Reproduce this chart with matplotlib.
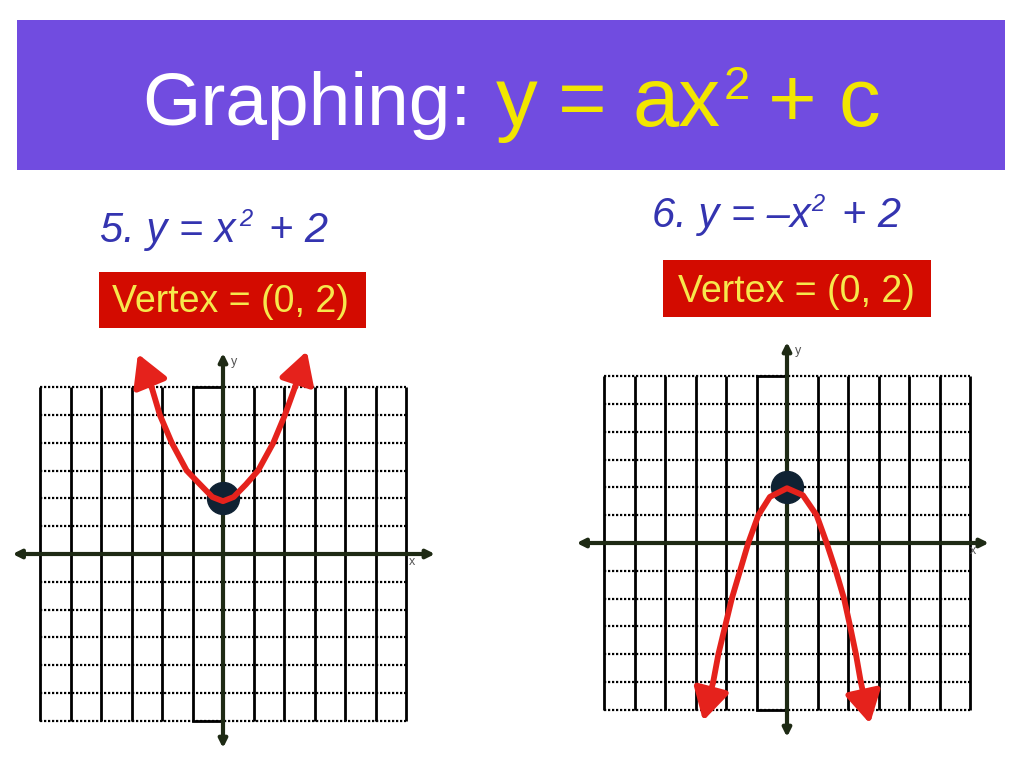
import numpy as np
import matplotlib.pyplot as plt
from matplotlib.patches import Rectangle

plt.rcParams['font.family'] = ['Liberation Sans', 'DejaVu Sans']

# grid range (units each way)
grid_ticks = list(range(-6, 7))

# curve 5: y = x^2 + 2
curve5_x = [-2.79, -2.34, -2.07, -1.68, -1.19, -0.75, -0.35, 0, 0.35, 0.75, 1.15, 1.65, 2.03, 2.36, 2.75]
curve5_y = [7.2, 6.0, 5.0, 4.0, 3.0, 2.5, 2.05, 1.9, 2.05, 2.5, 3.0, 4.0, 5.0, 6.0, 7.3]

# curve 6: y = -x^2 + 2
curve6_x = [-2.75, -2.42, -2.25, -2.03, -1.81, -1.54, -1.27, -0.94, -0.56, 0, 0.52, 0.97, 1.30, 1.6, 1.87, 2.07, 2.26, 2.42, 2.72]
curve6_y = [-6.4, -5, -4, -3, -2, -1, 0, 1, 1.66, 1.97, 1.72, 1, 0, -1, -2, -3, -4, -5, -6.5]

vertex = (0, 2)

W, H = 1024, 768
fig = plt.figure(figsize=(W / 100, H / 100), dpi=100)
fig.patch.set_facecolor('white')

RED = '#e5221c'
AXC = '#1e2a14'
BLUE = '#3434b0'
YEL = '#f2e600'


def ftext(x, y, s, **kw):
    # x, y in pixels from top-left, y is the baseline
    fig.text(x / W, 1 - y / H, s, va='baseline', ha='left', **kw)


def frect(x0, y0, x1, y1, color):
    fig.add_artist(Rectangle((x0 / W, 1 - y1 / H), (x1 - x0) / W, (y1 - y0) / H,
                             transform=fig.transFigure, facecolor=color, edgecolor='none', zorder=0))


# banner
frect(17, 20, 1005, 170, '#714ce0')
ftext(142, 125, 'Graphing:', color='white', fontsize=54)
ftext(496, 126, 'y', color=YEL, fontsize=60)
ftext(558, 126, '=', color=YEL, fontsize=60)
ftext(632, 126, 'ax', color=YEL, fontsize=60)
ftext(724, 99, '2', color=YEL, fontsize=34)
ftext(768, 126, '+', color=YEL, fontsize=60)
ftext(839, 126, 'c', color=YEL, fontsize=60)

# equations
ftext(100, 242, '5. y = x', color=BLUE, fontsize=30, fontstyle='italic')
ftext(239, 226, '2', color=BLUE, fontsize=17, fontstyle='italic')
ftext(269, 242, '+ 2', color=BLUE, fontsize=30, fontstyle='italic')

ftext(652, 227, '6. y = \u2013x', color=BLUE, fontsize=30, fontstyle='italic')
ftext(811, 211, '2', color=BLUE, fontsize=17, fontstyle='italic')
ftext(842, 227, '+ 2', color=BLUE, fontsize=30, fontstyle='italic')

# vertex boxes
frect(99, 272, 366, 328, '#d30b00')
ftext(112, 312, 'Vertex = (0, 2)', color='#f6e84c', fontsize=27)
frect(663, 260, 931, 317, '#d30b00')
ftext(678, 302, 'Vertex = (0, 2)', color='#f6e84c', fontsize=27)

SX, SY = 30.5, 27.8
XL, YL = (-7.4, 7.4), (-7.4, 7.8)


def make_axes(cx, cy):
    left = cx + XL[0] * SX
    right = cx + XL[1] * SX
    top = cy - YL[1] * SY
    bottom = cy - YL[0] * SY
    ax = fig.add_axes([left / W, 1 - bottom / H, (right - left) / W, (bottom - top) / H])
    ax.set_xlim(*XL)
    ax.set_ylim(*YL)
    ax.axis('off')
    return ax


def draw_graph(ax, xs, ys, xext, yext, xlab, ylab):
    lo, hi = grid_ticks[0], grid_ticks[-1]
    for t in grid_ticks:
        if t != 0:
            ax.plot([t, t], [lo, hi], color='black', lw=2.0, zorder=1, solid_capstyle='butt')
            ax.plot([lo, hi], [t, t], color='black', lw=1.6, ls=(0, (1, 0.8)), zorder=1)
    # solid box top/bottom segments in the column left of the y axis
    ax.plot([-1, 0], [hi, hi], color='black', lw=2.0, zorder=1)
    ax.plot([-1, 0], [lo, lo], color='black', lw=2.0, zorder=1)

    ap = dict(arrowstyle='<|-|>', color=AXC, lw=3, mutation_scale=12, shrinkA=0, shrinkB=0)
    ax.annotate('', xy=(xext[1], 0), xytext=(xext[0], 0), arrowprops=ap, zorder=2)
    ax.annotate('', xy=(0, yext[1]), xytext=(0, yext[0]), arrowprops=ap, zorder=2)
    ax.text(xlab[0], xlab[1], 'x', color='#555555', fontsize=9, ha='center', va='center')
    ax.text(ylab[0], ylab[1], 'y', color='#555555', fontsize=9, ha='center', va='center')

    ax.plot(*vertex, 'o', color='#0f2233', ms=23, zorder=3)

    ax.plot(xs[1:-1], ys[1:-1], color=RED, lw=4.2, zorder=4, solid_capstyle='round', solid_joinstyle='round')
    hp = dict(arrowstyle='-|>,head_length=0.8,head_width=0.45', color=RED, lw=4.2,
              mutation_scale=24, shrinkA=0, shrinkB=0)
    ax.annotate('', xy=(xs[0], ys[0]), xytext=(xs[1], ys[1]), arrowprops=hp, zorder=4)
    ax.annotate('', xy=(xs[-1], ys[-1]), xytext=(xs[-2], ys[-2]), arrowprops=hp, zorder=4)


ax1 = make_axes(223, 554)
draw_graph(ax1, curve5_x, curve5_y, (-6.9, 6.95), (-6.98, 7.23), (6.2, -0.3), (0.35, 6.9))

ax2 = make_axes(787, 543)
draw_graph(ax2, curve6_x, curve6_y, (-6.9, 6.62), (-6.98, 7.23), (6.1, -0.3), (0.35, 6.9))

fig.savefig('out.png', dpi=100)
